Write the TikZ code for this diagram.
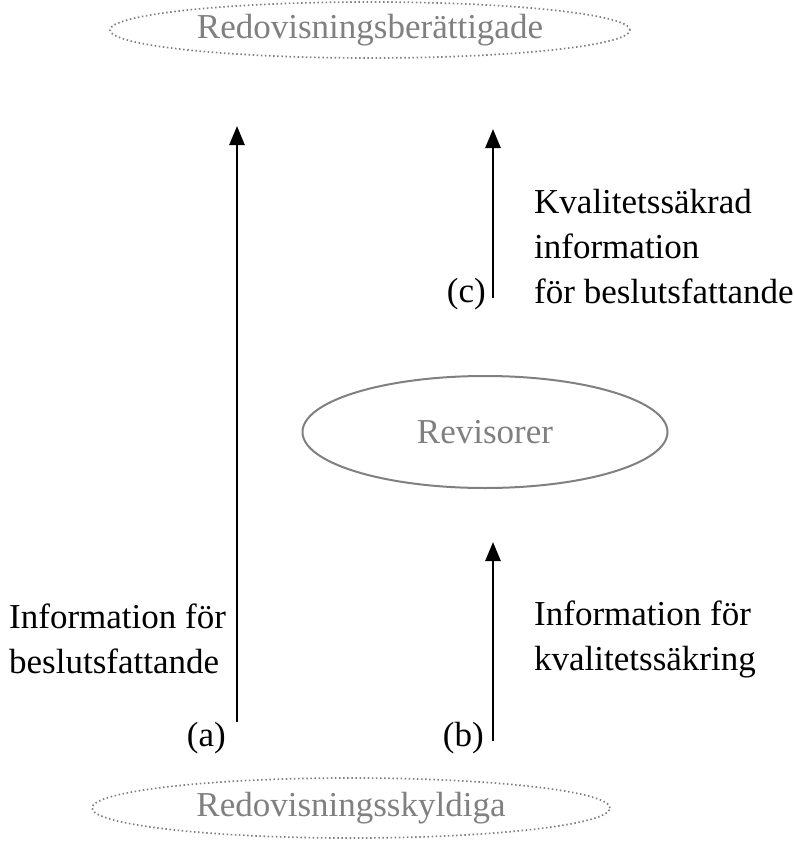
\documentclass[tikz,border=0pt]{standalone}
\usepackage{fontspec}
\setmainfont{Liberation Serif}
\usetikzlibrary{shapes.geometric,arrows.meta}
\definecolor{softgray}{HTML}{808080}
\begin{document}
\begin{tikzpicture}[x=1pt,y=-1pt,
  txt/.style={inner sep=0pt,font=\fontsize{35}{45}\selectfont,align=left},
  party/.style={ellipse,draw=softgray,text=softgray,line width=1.7pt,
    dash pattern=on 1.5pt off 2.6pt,inner sep=0pt,
    font=\fontsize{35}{40}\selectfont},
  auditor/.style={ellipse,draw=softgray,text=softgray,line width=2pt,
    inner sep=0pt,font=\fontsize{35}{40}\selectfont},
  flow/.style={line width=2.6pt,-{Triangle[width=15pt,length=19pt]}}]
  \useasboundingbox (0,0) rectangle (794,848);

  % parties and auditors
  \node[party,minimum width=520pt,minimum height=56pt] (users) at (370,30) {Redovisningsberättigade};
  \node[party,minimum width=518pt,minimum height=60pt] (preparers) at (351,808) {Redovisningsskyldiga};
  \node[auditor,minimum width=365pt,minimum height=112pt] (auditors) at (485,432) {Revisorer};

  % arrow end points
  \coordinate (aS) at (237,722);
  \coordinate (aE) at (237,126);
  \coordinate (bS) at (493,741);
  \coordinate (bE) at (493,542);
  \coordinate (cS) at (493,298);
  \coordinate (cE) at (493,129);

  \draw[flow] (aS) -- (aE);
  \draw[flow] (bS) -- (bE);
  \draw[flow] (cS) -- (cE);

  % labels
  \node[txt,anchor=west] (cText) at (534,247) {Kvalitetssäkrad\\information\\för beslutsfattande};
  \node[txt,anchor=east] (cTag) at (486,294) {(c)};
  \node[txt,anchor=west] (aText) at (9,639) {Information för\\beslutsfattande};
  \node[txt,anchor=east] (aTag) at (226,738) {(a)};
  \node[txt,anchor=west] (bText) at (534,639) {Information för\\kvalitetssäkring};
  \node[txt,anchor=east] (bTag) at (484,738) {(b)};
\end{tikzpicture}
\end{document}
